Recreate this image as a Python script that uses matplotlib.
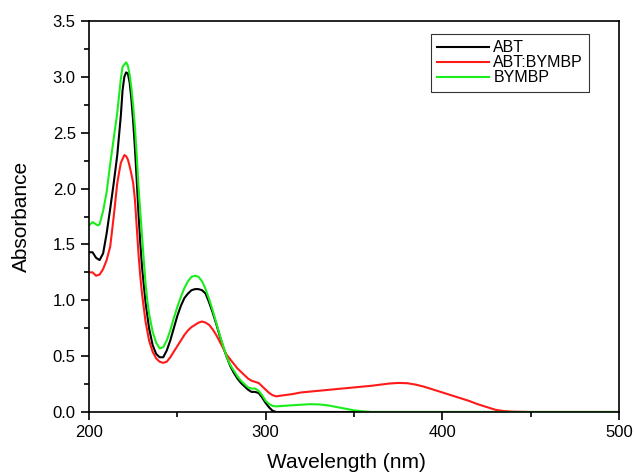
import matplotlib
matplotlib.use("Agg")
import matplotlib.pyplot as plt
from matplotlib.ticker import MultipleLocator

plt.rcParams['font.family'] = ['Liberation Sans', 'DejaVu Sans']

# ABT
abt_x = [200, 202, 204, 206, 208, 210, 212, 214, 216, 218, 219, 220, 221, 222, 223, 224, 225, 226,
         227, 228, 229, 230, 232, 234, 236, 238, 240, 242, 244, 246, 248, 250, 252, 254, 256, 258,
         260, 262, 264, 266, 268, 270, 272, 274, 276, 278, 280, 282, 284, 286, 288, 290, 292, 294,
         296, 298, 300, 302, 304, 306, 320, 500]
abt_y = [1.43, 1.43, 1.38, 1.36, 1.42, 1.60, 1.82, 2.05, 2.30, 2.65, 2.88, 3.00, 3.04, 3.03, 2.95,
         2.80, 2.60, 2.36, 2.08, 1.78, 1.52, 1.30, 0.98, 0.75, 0.60, 0.52, 0.49, 0.49, 0.55, 0.64,
         0.75, 0.86, 0.95, 1.02, 1.06, 1.09, 1.10, 1.10, 1.09, 1.06, 0.98, 0.89, 0.79, 0.68, 0.58,
         0.49, 0.41, 0.35, 0.30, 0.26, 0.23, 0.20, 0.18, 0.18, 0.17, 0.13, 0.08, 0.04, 0.01, 0.0,
         0.0, 0.0]

# ABT:BYMBP
mix_x = [200, 202, 204, 206, 208, 210, 212, 214, 216, 218, 220, 221, 222, 223, 224, 225, 226, 227,
         228, 229, 230, 232, 234, 236, 238, 240, 242, 244, 246, 248, 250, 252, 254, 256, 258, 260,
         262, 264, 266, 268, 270, 272, 274, 276, 278, 280, 282, 284, 286, 288, 290, 292, 294, 296,
         298, 300, 302, 304, 306, 308, 315, 320, 330, 340, 350, 360, 365, 370, 375, 380, 385, 390,
         395, 400, 405, 410, 415, 420, 425, 430, 435, 440, 450, 500]
mix_y = [1.25, 1.25, 1.22, 1.23, 1.28, 1.36, 1.48, 1.75, 2.05, 2.23, 2.30, 2.29, 2.26, 2.20, 2.13,
         2.05, 1.90, 1.66, 1.42, 1.22, 1.06, 0.81, 0.64, 0.54, 0.48, 0.45, 0.44, 0.45, 0.49, 0.54,
         0.59, 0.64, 0.69, 0.73, 0.76, 0.78, 0.80, 0.81, 0.80, 0.78, 0.74, 0.69, 0.63, 0.57, 0.51,
         0.47, 0.43, 0.39, 0.36, 0.33, 0.30, 0.28, 0.27, 0.26, 0.23, 0.20, 0.17, 0.15, 0.14, 0.145,
         0.16, 0.175, 0.19, 0.205, 0.22, 0.235, 0.245, 0.255, 0.26, 0.258, 0.245, 0.225, 0.20,
         0.175, 0.15, 0.125, 0.10, 0.07, 0.045, 0.02, 0.008, 0.003, 0.0, 0.0]

# BYMBP
bym_x = [200, 202, 204, 205, 206, 208, 210, 212, 214, 216, 218, 219, 220, 221, 222, 223, 224, 225,
         226, 227, 228, 229, 230, 231, 232, 233, 234, 236, 238, 240, 242, 244, 246, 248, 250, 252,
         254, 256, 258, 260, 262, 264, 266, 268, 270, 272, 274, 276, 278, 280, 282, 284, 286, 288,
         290, 292, 294, 296, 298, 300, 302, 304, 306, 310, 315, 320, 325, 330, 335, 340, 345, 350,
         355, 360, 500]
bym_y = [1.67, 1.70, 1.68, 1.67, 1.68, 1.80, 1.97, 2.22, 2.45, 2.68, 2.98, 3.09, 3.11, 3.13, 3.10,
         3.02, 2.90, 2.74, 2.55, 2.30, 2.02, 1.80, 1.58, 1.36, 1.15, 1.00, 0.88, 0.72, 0.62, 0.57,
         0.58, 0.64, 0.73, 0.84, 0.94, 1.03, 1.11, 1.17, 1.21, 1.22, 1.21, 1.17, 1.10, 1.01, 0.91,
         0.80, 0.69, 0.59, 0.49, 0.42, 0.37, 0.32, 0.28, 0.25, 0.22, 0.21, 0.21, 0.19, 0.15, 0.10,
         0.07, 0.055, 0.05, 0.055, 0.06, 0.065, 0.07, 0.068, 0.06, 0.045, 0.03, 0.015, 0.006, 0.0,
         0.0]

labels = ["ABT", "ABT:BYMBP", "BYMBP"]
colors = ["#000000", "#ff1a1a", "#1aee1a"]

fig = plt.figure(figsize=(6.34, 4.76), dpi=100)
ax = fig.add_axes([89/634, 64/476, 530/634, 391/476])

for xs, ys, lab, c in zip([abt_x, mix_x, bym_x], [abt_y, mix_y, bym_y], labels, colors):
    ax.plot(xs, ys, color=c, lw=1.5, label=lab)

ax.set_xlim(200, 500)
ax.set_ylim(0, 3.5)
ax.xaxis.set_major_locator(MultipleLocator(100))
ax.xaxis.set_minor_locator(MultipleLocator(50))
ax.yaxis.set_major_locator(MultipleLocator(0.5))
ax.yaxis.set_minor_locator(MultipleLocator(0.25))
ax.yaxis.set_major_formatter(plt.FuncFormatter(lambda v, p: f"{v:.1f}"))
ax.tick_params(which='major', direction='out', length=6, width=1.2, labelsize=12,
               top=False, right=False)
ax.tick_params(which='minor', direction='out', length=3.5, width=1.2, top=False, right=False)
for s in ax.spines.values():
    s.set_linewidth(1.2)

ax.set_xlabel("Wavelength (nm)", fontsize=15, labelpad=9)
ax.xaxis.label.set_x(0.485)
ax.set_ylabel("Absorbance", fontsize=15, labelpad=16)

leg = ax.legend(loc='upper left', bbox_to_anchor=(342/530, 1 - 13/391), fontsize=11.5,
                frameon=True, fancybox=False, edgecolor='black', handlelength=3.2,
                handletextpad=0.3, borderpad=0.4, labelspacing=0.0, borderaxespad=0)
leg.get_frame().set_linewidth(0.8)

fig.savefig("out.png", dpi=100)
